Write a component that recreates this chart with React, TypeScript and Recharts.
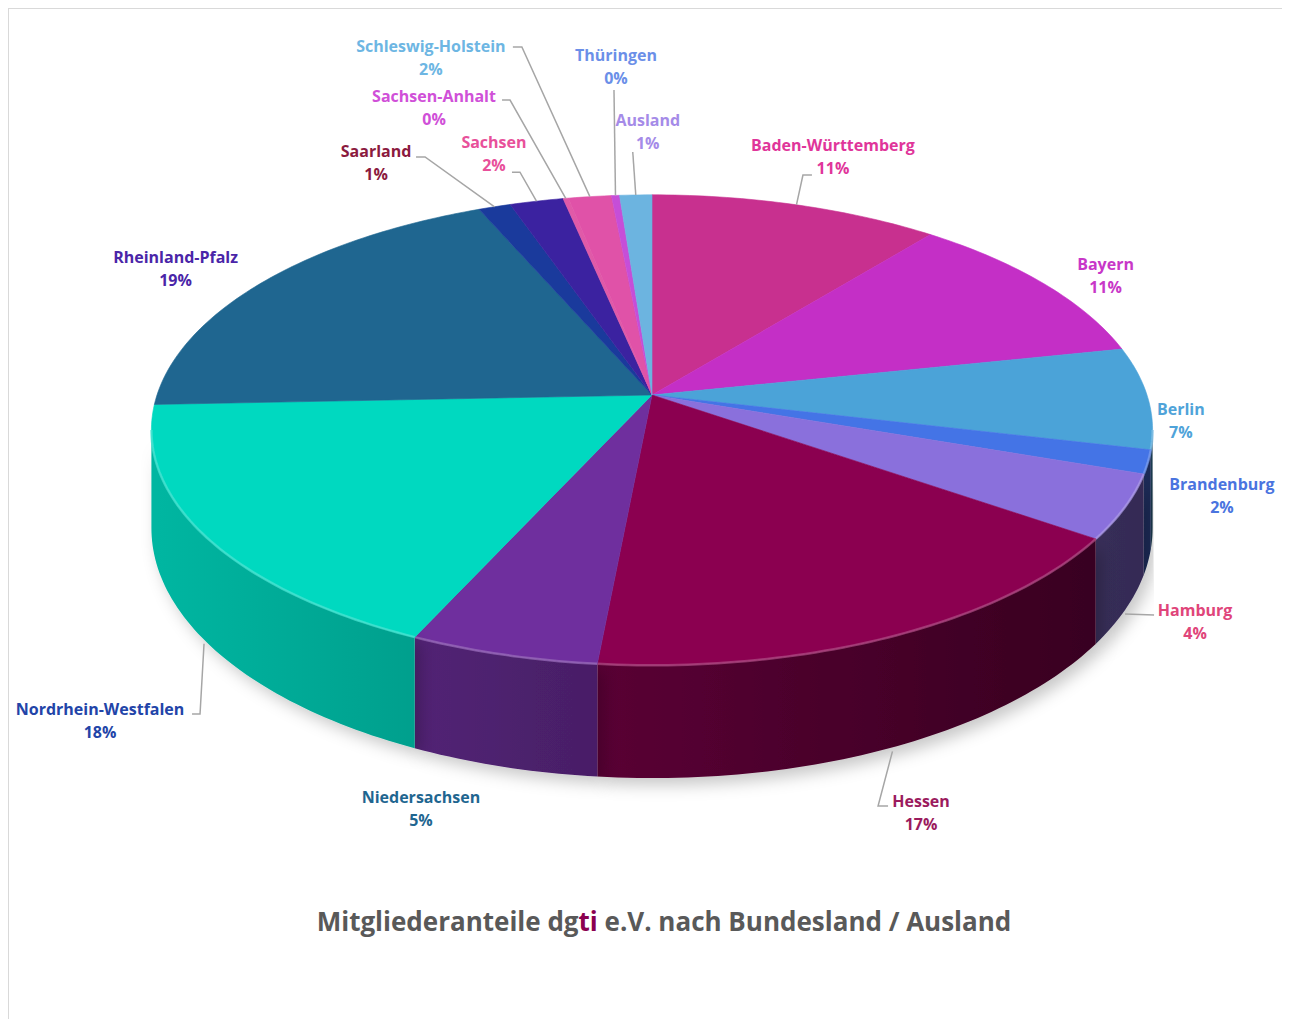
import React from "react";
import { PieChart, Pie, Cell, Tooltip } from "recharts";

// slices, clockwise from 12 o'clock
const STATES = [
  "Baden-Württemberg",
  "Bayern",
  "Berlin",
  "Brandenburg",
  "Hamburg",
  "Hessen",
  "Niedersachsen",
  "Nordrhein-Westfalen",
  "Rheinland-Pfalz",
  "Saarland",
  "Sachsen",
  "Sachsen-Anhalt",
  "Schleswig-Holstein",
  "Thüringen",
  "Ausland",
];
const SHARES = [10.8, 10.9, 7.0, 1.6, 4.4, 16.8, 5.3, 17.55, 19.15, 1.2, 2.0, 0.2, 1.6, 0.3, 1.2];

const SLICE_COLORS = [
  "#C8308F", "#C42FC6", "#4BA3D8", "#4474E6", "#8A70DC",
  "#8B0050", "#6F2F9E", "#00D9C0", "#1F6690", "#1A3A9C",
  "#3B22A0", "#E05AA8", "#E052A8", "#C64ED8", "#6CB4E0",
];
const LABEL_COLORS = [
  "#E0359A", "#C837C8", "#4FA3D9", "#4A74DF", "#E0457A",
  "#9B1B5E", "#1F6690", "#2244A8", "#4A25A8", "#8B1A3E",
  "#E8509A", "#D050D8", "#6DB6E3", "#6B8FE8", "#A58BE8",
];

// label centre relative to the slice's rim point: [dx, dy, leaderX, leaderY, elbow]
const LABEL_LAYOUT: Record<string, number[]> = {
  "Baden-Württemberg": [36.5, -48.8, -21, 19, -9],
  Bayern: [62, -8],
  Berlin: [33, 23],
  Brandenburg: [74, 34],
  Hamburg: [70, 115, -41, -7, 0],
  Hessen: [28.6, 175.7, -33, -6, -10],
  Niedersachsen: [-82, 154],
  "Nordrhein-Westfalen": [-104, 185, 92, -6, 8],
  "Rheinland-Pfalz": [-88, -13],
  Saarland: [-118.5, -43.8, 40, -6, 9],
  Sachsen: [-42.5, -48, 18, 19, 8],
  "Sachsen-Anhalt": [-131.7, -91.3, 68, -7, 8],
  "Schleswig-Holstein": [-159, -139.6, 82, -10, 9],
  Thüringen: [0.5, -128.5, -2, 23, 0],
  Ausland: [12, -63, -15, 20, 0],
};

const data = STATES.map((name, i) => ({ name, value: SHARES[i] }));

const FONT = "'Open Sans', 'Liberation Sans', sans-serif";
const TILT = 230 / 495;
const PERSP = 0.149;
const DEPTH = 96;
const WALL_FROM = (Math.acos(-PERSP) * 180) / Math.PI;
const WALL_TO = 360 - WALL_FROM;

function rim(cx: number, cy: number, r: number, theta: number) {
  const t = (theta * Math.PI) / 180;
  const u = Math.sin(t);
  const v = -Math.cos(t);
  const w = 1 - PERSP * v;
  return { x: cx + (r * u) / w, y: cy + (r * TILT * v) / w, d: DEPTH / w };
}

function shade(hex: string, f: number) {
  const n = parseInt(hex.slice(1), 16);
  const c = [(n >> 16) & 255, (n >> 8) & 255, n & 255].map((x) =>
    f <= 1 ? Math.round(x * f) : Math.round(x + (255 - x) * (f - 1))
  );
  return `rgb(${c[0]},${c[1]},${c[2]})`;
}

function arcPts(cx: number, cy: number, r: number, from: number, to: number, drop: boolean) {
  const n = Math.max(2, Math.ceil(Math.abs(to - from)));
  const pts: string[] = [];
  for (let i = 0; i <= n; i++) {
    const p = rim(cx, cy, r, from + ((to - from) * i) / n);
    pts.push(`${p.x.toFixed(2)},${(drop ? p.y + p.d : p.y).toFixed(2)}`);
  }
  return pts;
}

function Slice3D(props: any) {
  const { cx, cy, outerRadius, startAngle, endAngle, fill } = props;
  const a0 = Math.min(90 - startAngle, 90 - endAngle);
  const a1 = Math.max(90 - startAngle, 90 - endAngle);
  const top = `M${cx},${cy} L${arcPts(cx, cy, outerRadius, a0, a1, false).join(" L")} Z`;
  const lo = Math.max(a0, WALL_FROM);
  const hi = Math.min(a1, WALL_TO);
  const gid = `wall${String(fill).replace("#", "")}`;
  let wall = "";
  let edge = "";
  if (hi > lo) {
    const upper = arcPts(cx, cy, outerRadius, lo, hi, false);
    const lower = arcPts(cx, cy, outerRadius, hi, lo, true);
    wall = `M${upper.join(" L")} L${lower.join(" L")} Z`;
    edge = `M${upper.join(" L")}`;
  }
  return (
    <g>
      <defs>
        <linearGradient id={gid} gradientUnits="userSpaceOnUse" x1={cx - outerRadius} y1={0} x2={cx + outerRadius} y2={0}>
          <stop offset="0" stopColor={shade(fill, 0.84)} />
          <stop offset="0.3" stopColor={shade(fill, 0.72)} />
          <stop offset="0.7" stopColor={shade(fill, 0.52)} />
          <stop offset="1" stopColor={shade(fill, 0.38)} />
        </linearGradient>
        <filter id="pieShadow" x="-20%" y="-20%" width="140%" height="160%">
          <feDropShadow dx="6" dy="7" stdDeviation="8" floodColor="#000" floodOpacity="0.22" />
        </filter>
      </defs>
      {wall && <path d={wall} fill={`url(#${gid})`} filter="url(#pieShadow)" />}
      <path d={top} fill={fill} stroke={fill} strokeWidth={0.6} />
      {edge && <path d={edge} fill="none" stroke={shade(fill, 1.3)} strokeWidth={2.5} strokeOpacity={0.7} />}
    </g>
  );
}

function renderLabel(props: any) {
  const { cx, cy, outerRadius, midAngle, percent, name } = props;
  const i = STATES.indexOf(name);
  const lay = LABEL_LAYOUT[name];
  if (!lay) return null;
  const theta = (((90 - midAngle) % 360) + 360) % 360;
  const p = rim(cx, cy, outerRadius, theta);
  const lx = p.x + lay[0];
  const ly = p.y + lay[1];
  const front = theta >= WALL_FROM && theta <= WALL_TO;
  const ex = p.x;
  const ey = front ? p.y + p.d + 4 : p.y;
  return (
    <g key={`lbl-${name}`}>
      {lay.length > 2 && (
        <path
          d={`M${lx + lay[2]},${ly + lay[3]} h${lay[4]} L${ex},${ey}`}
          fill="none"
          stroke="#a6a6a6"
          strokeWidth={1.5}
        />
      )}
      <text textAnchor="middle" fill={LABEL_COLORS[i]} fontFamily={FONT} fontWeight={700} fontSize={16}>
        <tspan x={lx} y={ly - 5.5}>{name}</tspan>
        <tspan x={lx} y={ly + 17.5}>{`${Math.round(percent * 100)}%`}</tspan>
      </text>
    </g>
  );
}

export default function App() {
  return (
    <div style={{ position: "relative", width: 1282, height: 1019, marginBottom: -8, overflow: "hidden", background: "#fff" }}>
      <div
        style={{
          position: "absolute",
          left: -1,
          top: -1,
          width: 1400,
          height: 1200,
          borderTop: "2px solid #d9d9d9",
          borderLeft: "2px solid #d9d9d9",
        }}
      />
      <div style={{ position: "absolute", left: 0, top: 0 }}>
        <PieChart width={1282} height={1019}>
          <Pie
            data={data}
            dataKey="value"
            nameKey="name"
            cx={639}
            cy={382}
            outerRadius={495}
            startAngle={90}
            endAngle={-270}
            stroke="none"
            isAnimationActive={false}
            shape={Slice3D}
            activeShape={Slice3D}
            inactiveShape={Slice3D}
            label={renderLabel}
            labelLine={false}
          >
            {data.map((d, i) => (
              <Cell key={d.name} fill={SLICE_COLORS[i]} />
            ))}
          </Pie>
          <Tooltip defaultIndex={0} content={() => null} cursor={false} />
        </PieChart>
      </div>
      <div
        style={{
          position: "absolute",
          left: 0,
          width: 1312,
          top: 895,
          textAlign: "center",
          fontFamily: FONT,
          fontWeight: 700,
          fontSize: 26,
          color: "#595959",
          whiteSpace: "nowrap",
        }}
      >
        Mitgliederanteile dg<span style={{ color: "#8B0050" }}>ti</span> e.V. nach Bundesland / Ausland
      </div>
    </div>
  );
}
